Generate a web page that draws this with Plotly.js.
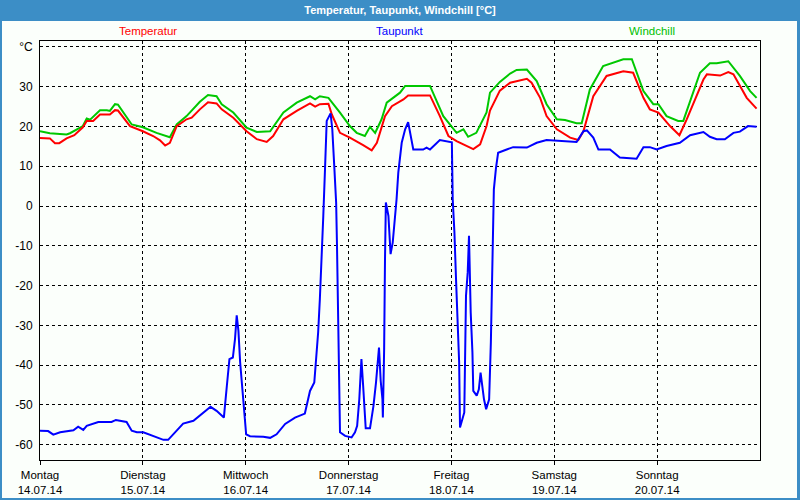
<!DOCTYPE html>
<html>
<head>
<meta charset="utf-8">
<script src="https://cdn.plot.ly/plotly-3.0.1.min.js"></script>
<style>
  html, body { margin: 0; padding: 0; background: #3c8ec6; }
  #chart { width: 800px; height: 500px; }
</style>
</head>
<body>
<div id="chart"></div>
<script>
// Hours since Montag 14.07.14 00:00
const tempHours = [0, 2.3, 3.5, 4.5, 6.2, 8, 10, 10.9, 12.4, 14, 16.3, 17.5, 18.2, 21, 24, 26.4, 28, 29.2, 30.3, 31.9, 34.2, 35.4, 37.3, 39.2, 41.2, 42.4, 45.1, 48.2, 50.6, 52.9, 54.4, 56.8, 59.9, 63, 64.2, 65.3, 67.3, 68.1, 70, 72.3, 75.4, 77.4, 78.6, 80.5, 82.1, 84.8, 85.9, 91, 93.3, 95.3, 97.2, 99.6, 101.1, 102.7, 104.2, 105, 107.3, 109.7, 113.6, 114.7, 116.7, 118.2, 120.6, 123.7, 125.6, 126.8, 129.1, 132.2, 136.1, 138.4, 140.8, 142.3, 144.3, 147, 149.2, 150.9, 154.8, 155.6, 158.7, 160.6, 161.8, 164.9, 167.2];
const tempValues = [17.1, 17.0, 15.8, 15.8, 17.0, 17.8, 19.8, 21.4, 21.4, 23.0, 23.0, 24.1, 24.0, 20.1, 18.8, 17.6, 16.5, 15.2, 15.9, 20.1, 21.8, 22.2, 24.3, 26.1, 25.8, 24.3, 22.2, 18.8, 16.8, 16.1, 17.6, 21.8, 23.9, 25.8, 25.0, 25.6, 25.7, 23.0, 18.4, 17.2, 15.3, 14.0, 15.9, 22.6, 25.1, 26.8, 27.8, 27.8, 22.6, 17.6, 16.3, 15.1, 14.3, 15.5, 20.1, 24.0, 29.0, 31.0, 32.0, 31.0, 27.2, 22.6, 19.3, 17.2, 16.6, 18.8, 27.6, 32.7, 33.9, 33.5, 27.2, 24.3, 23.5, 20.1, 17.8, 21.8, 31.8, 33.1, 32.8, 33.7, 33.1, 27.2, 24.5];

const chillHours = [0, 2.3, 6.2, 7, 10, 10.9, 11.7, 14, 15.6, 16.3, 17.5, 18.2, 21.4, 24, 27.2, 30.3, 31.9, 34.2, 37.3, 39.2, 41.2, 42.4, 45.1, 48.2, 50.6, 53.7, 56.8, 59.9, 63, 64.2, 65.3, 67.3, 70, 72.3, 73.9, 75.8, 77, 78.2, 79.7, 80.9, 84, 85.2, 91, 94.1, 97.2, 98.8, 99.9, 101.8, 104.2, 105, 107.3, 109.7, 111.2, 113.6, 115.9, 118.2, 120.6, 122.5, 125.2, 126.4, 128.3, 131.4, 136.1, 138.1, 140.8, 143.1, 144.3, 146.2, 148.9, 150.1, 154, 156.3, 157.9, 160.6, 163.3, 165.7, 167.2];
const chillValues = [18.8, 18.3, 18.0, 18.3, 20.1, 22.0, 21.7, 24.1, 24.1, 23.9, 25.6, 25.5, 20.5, 19.8, 18.4, 17.3, 20.5, 22.6, 26.2, 27.9, 27.6, 25.6, 23.5, 19.7, 18.6, 18.8, 23.5, 26.0, 27.6, 26.8, 27.6, 27.2, 23.5, 20.1, 18.4, 17.6, 19.9, 18.4, 21.8, 26.0, 28.5, 30.2, 30.2, 22.6, 18.4, 19.3, 17.4, 18.4, 23.5, 28.5, 31.2, 33.3, 34.2, 34.3, 31.4, 25.6, 21.8, 21.6, 20.8, 20.8, 29.3, 35.2, 36.9, 36.9, 28.9, 25.6, 25.6, 22.6, 21.4, 21.4, 33.5, 35.9, 35.9, 36.4, 32.7, 28.9, 27.2];

const dewHours = [0, 1.9, 3.1, 4.7, 7.8, 8.9, 10.1, 10.9, 13.6, 16.7, 17.7, 20.2, 21.4, 22.6, 24.1, 25.7, 28.8, 29.9, 33.4, 35.8, 38.1, 39.8, 41.2, 42.9, 43.6, 44.2, 45, 45.5, 45.9, 46.3, 46.7, 47.1, 47.4, 48.1, 49, 52.1, 53.7, 55.2, 57.2, 59.5, 61.8, 62.2, 63, 64, 64.4, 64.9, 65.3, 65.6, 65.9, 66.1, 66.5, 66.9, 67.8, 68.2, 68.7, 69.1, 69.3, 69.5, 69.8, 70, 71.2, 72.7, 73.5, 74, 74.5, 75, 75.4, 75.8, 76, 77, 77.8, 78.4, 79.1, 79.5, 79.9, 80, 80.3, 80.5, 80.7, 81.3, 81.5, 81.8, 82.3, 82.7, 83.2, 83.6, 84.4, 85.2, 85.9, 87.1, 89.4, 90.2, 91, 93.3, 95.7, 96.1, 96.3, 96.7, 97.1, 97.4, 97.8, 98, 98.4, 99, 99.4, 99.8, 100.1, 100.3, 100.5, 100.9, 101.1, 101.9, 102.4, 102.8, 103.2, 103.6, 104.1, 104.8, 105.2, 105.5, 105.8, 105.9, 106.4, 106.9, 108.9, 110.4, 113.6, 115.9, 118.2, 121.3, 125.2, 126.8, 127.6, 129.1, 130.3, 133, 135.3, 139.2, 140.8, 142.3, 143.9, 146.2, 149.3, 151.7, 154.8, 156.3, 157.9, 159.8, 161.8, 163.3, 165.2, 167.2];
const dewValues = [-56.5, -56.6, -57.5, -56.9, -56.4, -55.5, -56.3, -55.3, -54.3, -54.3, -53.8, -54.3, -56.5, -56.9, -56.9, -57.6, -58.8, -58.8, -54.7, -54.0, -51.9, -50.5, -51.5, -53.2, -45.2, -38.5, -38.1, -33.5, -27.5, -31.4, -39.3, -44.4, -49.4, -57.4, -57.9, -58.0, -58.3, -57.4, -54.8, -53.2, -52.2, -50.3, -46.5, -44.4, -39.3, -31.8, -23.4, -16.7, -10.1, -2.5, 9.2, 21.4, 23.3, 19.3, 9.2, 0.9, -10.0, -27.6, -42.7, -56.9, -57.8, -58.2, -56.9, -55.3, -48.6, -38.5, -45.2, -51.1, -55.9, -55.9, -50.3, -44.4, -35.6, -44.0, -48.6, -53.2, -36.0, -13.4, 0.9, -2.5, -6.7, -12.1, -9.2, -5.0, 1.7, 8.4, 15.9, 19.3, 21.1, 14.2, 14.2, 14.7, 14.2, 16.6, 16.1, 16.0, 1.7, -6.7, -19.2, -30.2, -39.3, -55.7, -54.4, -51.9, -22.6, -16.7, -7.5, -16.7, -26.8, -36.8, -46.5, -47.7, -46.1, -41.9, -46.1, -48.6, -51.1, -48.6, -34.3, -20.9, -6.7, 4.2, 9.6, 13.4, 14.2, 14.8, 14.7, 15.9, 16.6, 16.3, 16.1, 18.8, 19.0, 17.2, 14.2, 14.2, 12.2, 11.9, 14.8, 14.8, 14.2, 15.1, 15.9, 17.8, 18.6, 17.4, 16.8, 16.8, 18.4, 18.7, 20.1, 19.9];

const seriesNames = ["Temperatur", "Taupunkt", "Windchill"];
const dayTickHours = [0, 24, 48, 72, 96, 120, 144];
const dayNames = ["Montag", "Dienstag", "Mittwoch", "Donnerstag", "Freitag", "Samstag", "Sonntag"];
const dayDates = ["14.07.14", "15.07.14", "16.07.14", "17.07.14", "18.07.14", "19.07.14", "20.07.14"];
const yTickVals = [-60, -50, -40, -30, -20, -10, 0, 10, 20, 30, 40];
const yTickText = ["-60", "-50", "-40", "-30", "-20", "-10", "0", "10", "20", "30", "°C"];

const RED = "#ff0000", BLUE = "#0000ff", GREEN = "#00c800";
const FONT = "Liberation Sans, Arial, sans-serif";
const BG = "#fbfffb";

const traces = [
  {x: chillHours, y: chillValues, name: seriesNames[2], mode: "lines", line: {color: GREEN, width: 2}},
  {x: tempHours, y: tempValues, name: seriesNames[0], mode: "lines", line: {color: RED, width: 2}},
  {x: dewHours, y: dewValues, name: seriesNames[1], mode: "lines", line: {color: BLUE, width: 2}}
];

const W = 800, H = 500, L = 40, R = 40, T = 41, B = 40;
const pw = W - L - R, ph = H - T - B;
const px = v => (v - L) / pw;
const py = v => (H - B - v) / ph;

const layout = {
  width: W, height: H,
  margin: {l: L, r: R, t: T, b: B, pad: 0},
  paper_bgcolor: "#3c8ec6",
  plot_bgcolor: BG,
  showlegend: false,
  font: {family: FONT, size: 11, color: "#000"},
  title: {
    text: "Temperatur, Taupunkt, Windchill [°C]",
    x: 0.5, xanchor: "center", xref: "paper",
    y: 1 - 10.5 / H, yref: "container", yanchor: "middle",
    font: {family: FONT, size: 11, color: "#ffffff", weight: "bold"}
  },
  xaxis: {
    range: [0, 168],
    tickmode: "array",
    tickvals: dayTickHours,
    ticktext: dayTickHours.map((h, i) => dayNames[i] + "<br>" + dayDates[i]),
    ticks: "outside", ticklen: 4, tickcolor: "#000", tickwidth: 1,
    showgrid: true, gridcolor: "#000", gridwidth: 1, griddash: "3px,3px",
    showline: true, linecolor: "#000", linewidth: 1, mirror: true,
    zeroline: false,
    tickfont: {family: FONT, size: 11.5, color: "#000"},
    fixedrange: true
  },
  yaxis: {
    range: [-63.87, 41.49],
    tickmode: "array",
    tickvals: yTickVals,
    ticktext: yTickText,
    ticks: "",
    showgrid: true, gridcolor: "#000", gridwidth: 1, griddash: "3px,3px",
    showline: true, linecolor: "#000", linewidth: 1, mirror: true,
    zeroline: false,
    tickfont: {family: FONT, size: 12, color: "#000"},
    ticklabelstandoff: 4,
    fixedrange: true
  },
  shapes: [
    {type: "rect", xref: "paper", yref: "paper", layer: "below",
     x0: px(2), x1: px(797), y0: py(498), y1: py(21),
     fillcolor: BG, line: {width: 0}}
  ],
  annotations: [
    {text: seriesNames[0], x: px(148), y: py(31), xref: "paper", yref: "paper", showarrow: false, xanchor: "center", yanchor: "middle", font: {family: FONT, size: 11.5, color: RED}},
    {text: seriesNames[1], x: px(399), y: py(31), xref: "paper", yref: "paper", showarrow: false, xanchor: "center", yanchor: "middle", font: {family: FONT, size: 11.5, color: BLUE}},
    {text: seriesNames[2], x: px(652), y: py(31), xref: "paper", yref: "paper", showarrow: false, xanchor: "center", yanchor: "middle", font: {family: FONT, size: 11.5, color: "#00c000"}}
  ]
};

Plotly.newPlot("chart", traces, layout, {staticPlot: true, displayModeBar: false});
</script>
</body>
</html>
